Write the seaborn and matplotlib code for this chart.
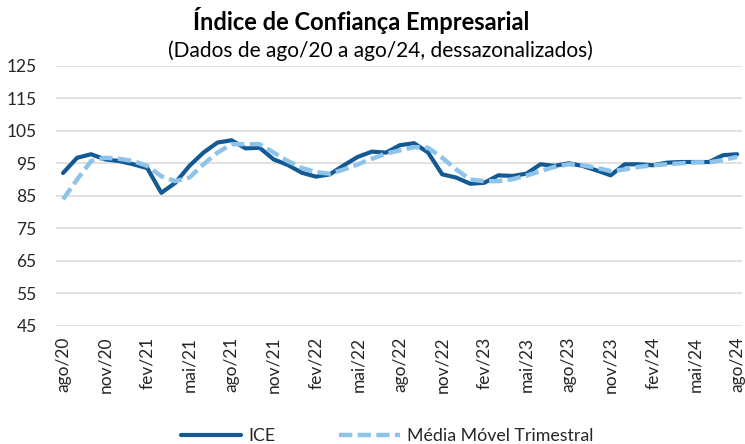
import matplotlib
matplotlib.use("Agg")
import matplotlib.pyplot as plt
import seaborn as sns
import pandas as pd

meses = ["jan", "fev", "mar", "abr", "mai", "jun", "jul", "ago", "set", "out", "nov", "dez"]
periodos = [f"{meses[(7 + i) % 12]}/{20 + (7 + i) // 12}" for i in range(49)]

ice = [92.0, 96.7, 97.8, 96.2, 95.7,
       94.7, 93.5, 85.9, 89.0, 94.2, 98.3, 101.4, 102.1, 99.6, 99.8, 96.2, 94.5,
       92.1, 90.9, 91.6, 94.4, 97.0, 98.6, 98.3, 100.6, 101.2, 98.3, 91.6, 90.6,
       88.7, 89.0, 91.3, 91.1, 91.8, 94.7, 94.2, 95.0, 94.2, 92.8, 91.3, 94.7,
       94.7, 94.4, 95.2, 95.4, 95.4, 95.4, 97.5, 97.8]

mmt = [83.9, 90.0, 95.7, 96.7, 96.4,
       95.7, 94.2, 91.0, 89.5, 90.6, 94.7, 98.3, 100.9, 100.9, 100.9, 98.3, 95.7,
       93.6, 92.3, 91.8, 93.1, 94.7, 96.4, 98.0, 99.0, 100.0, 99.8, 96.7, 93.1,
       90.0, 89.5, 89.5, 90.1, 91.2, 92.6, 93.9, 94.7, 94.4, 93.6, 92.6, 93.1,
       93.9, 94.4, 94.7, 95.0, 95.3, 95.3, 96.0, 97.0]

yticks = [45, 55, 65, 75, 85, 95, 105, 115, 125]

sns.set_style("white")
plt.rcParams["font.family"] = ["Lato", "DejaVu Sans"]

df = pd.DataFrame({
    "idx": list(range(len(periodos))) * 2,
    "valor": ice + mmt,
    "serie": ["ICE"] * len(ice) + ["Média Móvel Trimestral"] * len(mmt),
})

fig = plt.figure(figsize=(7.45, 4.44), dpi=100)
ax = fig.add_axes([56 / 745, 1 - 325.5 / 444, (742 - 56) / 745, (325.5 - 66) / 444])

for y in yticks:
    ax.axhline(y, color="#D9D9D9", lw=1.1, zorder=0)

sns.lineplot(data=df[df.serie == "ICE"], x="idx", y="valor",
             color="#135A94", lw=3.0, ax=ax, label="ICE", zorder=3)
sns.lineplot(data=df[df.serie == "Média Móvel Trimestral"], x="idx", y="valor",
             color="#8EC3EA", lw=3.2, ax=ax, label="Média Móvel Trimestral", zorder=4)
for ln in ax.get_lines():
    if ln.get_label() == "Média Móvel Trimestral":
        ln.set_linestyle((0, (3, 1.2)))
        ln.set_dash_capstyle("butt")

ax.set_xlim(-0.5, 48.35)
ax.set_ylim(45, 125)
ax.set_yticks(yticks)
ax.set_yticklabels([str(v) for v in yticks], fontsize=12.5, color="#262626")
xt = list(range(0, 49, 3))
ax.set_xticks(xt)
ax.set_xticklabels([periodos[i] for i in xt], rotation=90, fontsize=12.5, color="#262626")
ax.tick_params(axis="x", length=0, pad=8)
ax.tick_params(axis="y", length=0, pad=14)
ax.set_xlabel("")
ax.set_ylabel("")
for s in ax.spines.values():
    s.set_visible(False)
ax.get_legend().remove()

fig.text(361 / 745, 1 - 21 / 444, "Índice de Confiança Empresarial", ha="center", va="center",
         fontsize=17, fontweight="bold", color="#000000")
fig.text(380 / 745, 1 - 51 / 444, "(Dados de ago/20 a ago/24, dessazonalizados)", ha="center", va="center",
         fontsize=15, color="#000000")

handles, labels = ax.get_legend_handles_labels()
fig.legend(handles, labels,
           loc="center", bbox_to_anchor=(387 / 745, 1 - 436 / 444), ncol=2, frameon=False,
           fontsize=12.8, handlelength=3.4, columnspacing=3.6, handletextpad=0.4)

fig.savefig("out.png", dpi=100)
